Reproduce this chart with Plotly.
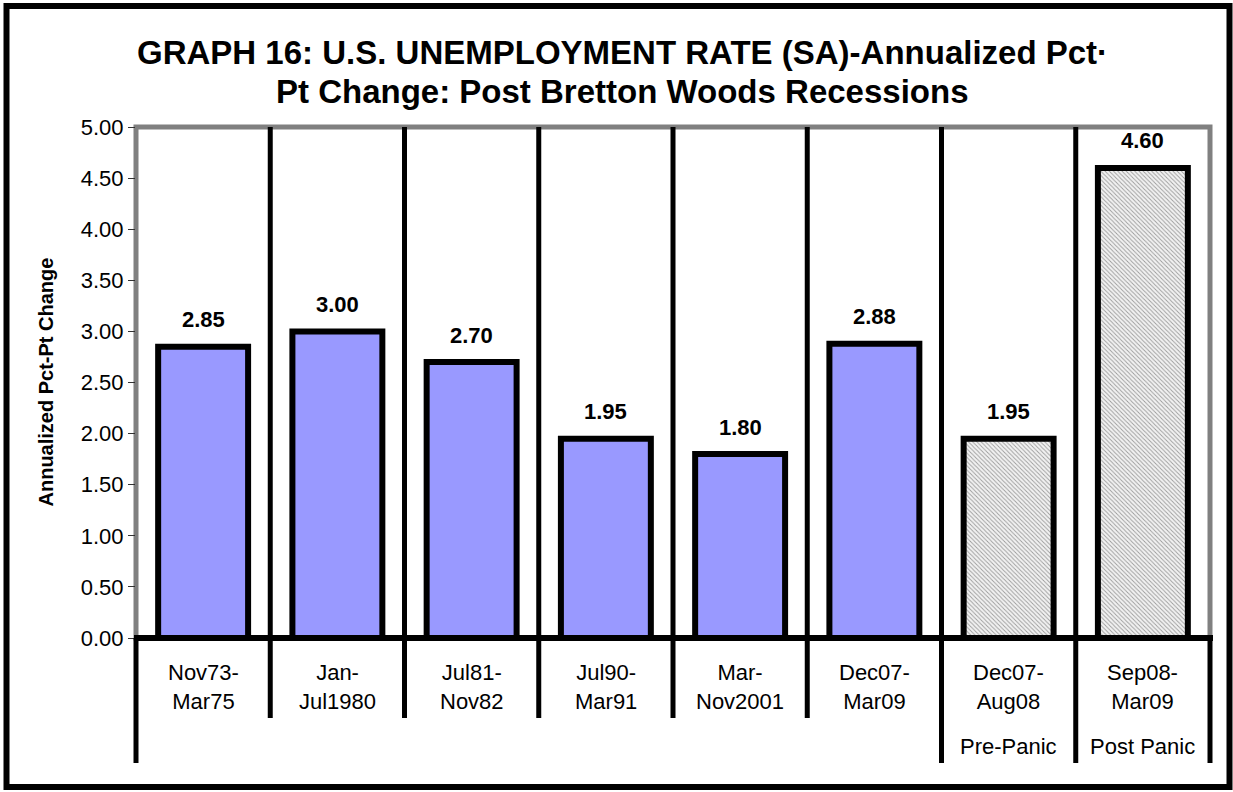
import plotly.graph_objects as go

# ---- data ----
title_line1 = "GRAPH 16: U.S. UNEMPLOYMENT RATE (SA)-Annualized Pct·"
title_line2 = "Pt Change: Post Bretton Woods Recessions"
y_title = "Annualized Pct-Pt Change"
cat_line1 = ["Nov73-", "Jan-", "Jul81-", "Jul90-", "Mar-", "Dec07-", "Dec07-", "Sep08-"]
cat_line2 = ["Mar75", "Jul1980", "Nov82", "Mar91", "Nov2001", "Mar09", "Aug08", "Mar09"]
group_labels = ["", "", "", "", "", "", "Pre-Panic", "Post Panic"]
values = [2.85, 3.00, 2.70, 1.95, 1.80, 2.88, 1.95, 4.60]
hatched = [False, False, False, False, False, False, True, True]
y_ticks = [0, 0.5, 1, 1.5, 2, 2.5, 3, 3.5, 4, 4.5, 5]

# ---- geometry (pixels) ----
WIDTH, HEIGHT = 1233, 792
L, R, T, B = 136, 23, 127, 154
PW = WIDTH - L - R
PH = HEIGHT - T - B
n = len(values)

def px_x(px):
    return (px - L) / PW

def px_y(py):
    return (HEIGHT - B - py) / PH

FONT = "Arial, Liberation Sans, sans-serif"

fig = go.Figure()
xs = list(range(n))
fig.add_trace(go.Bar(
    x=xs, y=values, width=0.67,
    marker=dict(
        color=["#f2f2f2" if h else "#9999FF" for h in hatched],
        line=dict(color="black", width=6),
        pattern=dict(
            shape=["\\" if h else "" for h in hatched],
            fgcolor="#b0b0b0", bgcolor="#f4f4f4", size=3, solidity=0.3,
        ),
    ),
    hoverinfo="skip",
))

shapes = []
# gray plot border
shapes.append(dict(type="rect", xref="paper", yref="paper", x0=0, x1=1, y0=0, y1=1,
                   line=dict(color="#808080", width=5), layer="below"))
# internal separators above axis
for k in range(1, n):
    shapes.append(dict(type="line", xref="paper", yref="paper", x0=k / n, x1=k / n,
                       y0=0, y1=1, line=dict(color="black", width=5), layer="above"))
# separators below axis
long_idx = {0, 6, 7, 8}
for k in range(0, n + 1):
    yend = px_y(763) if k in long_idx else px_y(718)
    shapes.append(dict(type="line", xref="paper", yref="paper", x0=k / n, x1=k / n,
                       y0=0, y1=yend, line=dict(color="black", width=5), layer="above"))
# x axis line
shapes.append(dict(type="line", xref="paper", yref="paper", x0=px_x(134), x1=px_x(1213),
                   y0=0, y1=0, line=dict(color="black", width=6), layer="above"))
# outer border
shapes.append(dict(type="rect", xref="paper", yref="paper",
                   x0=px_x(6.5), x1=px_x(1229.5), y0=px_y(787), y1=px_y(6),
                   line=dict(color="black", width=6), layer="above"))

annotations = []
for i, v in enumerate(values):
    annotations.append(dict(x=i, y=v, xref="x", yref="y", text=f"<b>{v:.2f}</b>",
                            showarrow=False, xanchor="center", yanchor="middle", yshift=27,
                            font=dict(family=FONT, size=22, color="black")))
    annotations.append(dict(x=(i + 0.5) / n, y=px_y(687), xref="paper", yref="paper",
                            text=f"{cat_line1[i]}<br>{cat_line2[i]}", showarrow=False,
                            xanchor="center", yanchor="middle",
                            font=dict(family=FONT, size=22, color="black")))
    if group_labels[i]:
        annotations.append(dict(x=(i + 0.5) / n, y=px_y(746), xref="paper", yref="paper",
                                text=group_labels[i], showarrow=False,
                                xanchor="center", yanchor="middle",
                                font=dict(family=FONT, size=22, color="black")))
# y axis title
annotations.append(dict(x=px_x(45), y=0.5, xref="paper", yref="paper",
                        text=f"<b>{y_title}</b>", textangle=-90,
                        xanchor="center", yanchor="middle",
                        showarrow=False, font=dict(family=FONT, size=20, color="black")))
# title lines
annotations.append(dict(x=px_x(622), y=px_y(53), xref="paper", yref="paper",
                        text=f"<b>{title_line1}</b>", showarrow=False,
                        xanchor="center", yanchor="middle",
                        font=dict(family=FONT, size=33, color="black")))
annotations.append(dict(x=px_x(622), y=px_y(92), xref="paper", yref="paper",
                        text=f"<b>{title_line2}</b>", showarrow=False,
                        xanchor="center", yanchor="middle",
                        font=dict(family=FONT, size=33, color="black")))

fig.update_layout(
    width=WIDTH, height=HEIGHT,
    margin=dict(l=L, r=R, t=T, b=B),
    paper_bgcolor="white", plot_bgcolor="white",
    showlegend=False,
    xaxis=dict(range=[-0.5, n - 0.5], showticklabels=False, showgrid=False,
               zeroline=False, showline=False, ticks="", fixedrange=True),
    yaxis=dict(range=[0, 5], tickvals=y_ticks, tickformat=".2f", showgrid=False,
               zeroline=False, showline=False, ticks="outside", ticklen=7,
               tickcolor="#333", tickwidth=1,
               tickfont=dict(family=FONT, size=22, color="black"), fixedrange=True),
    shapes=shapes,
    annotations=annotations,
    bargap=0.33,
)

fig.write_html("out.html", config={"displayModeBar": False},
               post_script="document.body.style.margin='0';document.body.style.overflow='hidden';")
